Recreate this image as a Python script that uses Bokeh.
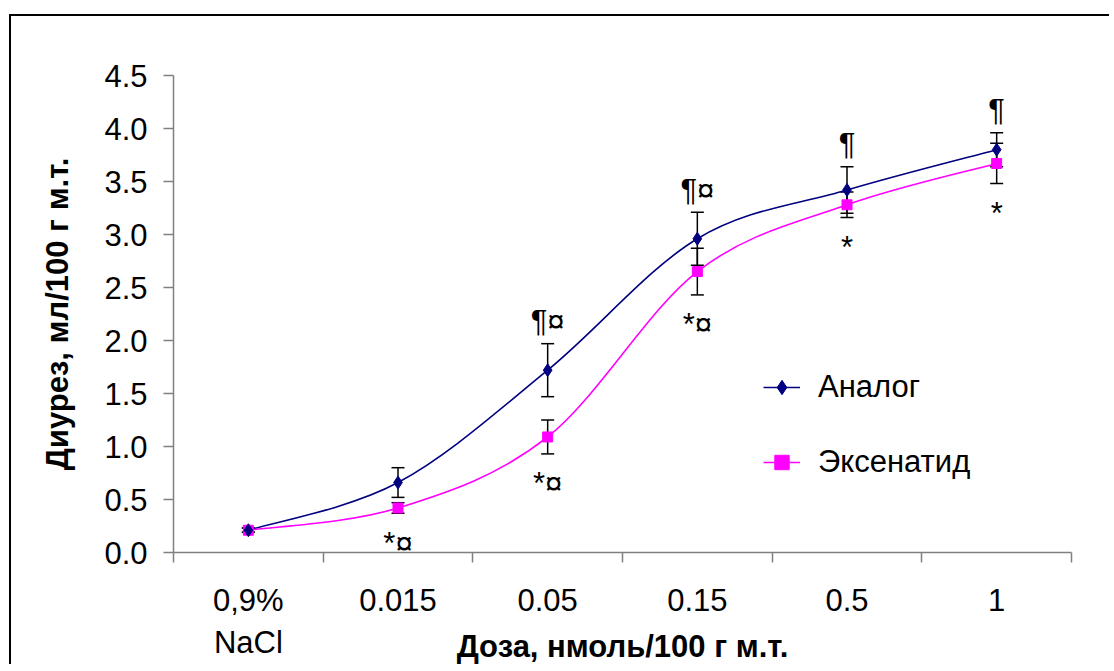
import numpy as np
from bokeh.plotting import figure
from bokeh.models import (ColumnDataSource, FixedTicker, NumeralTickFormatter, Whisker,
                          TeeHead, Legend, LegendItem, Range1d)
from bokeh.core.properties import value
from bokeh.embed import file_html
from bokeh.resources import INLINE

# ---- data ----
categories = ["0,9%\nNaCl", "0.015", "0.05", "0.15", "0.5", "1"]
series_names = ["Аналог", "Эксенатид"]
analog = [0.21, 0.66, 1.72, 2.96, 3.42, 3.80]
analog_err = [0.02, 0.14, 0.25, 0.25, 0.22, 0.16]
exenatide = [0.21, 0.42, 1.09, 2.65, 3.28, 3.67]
exenatide_err = [0.02, 0.05, 0.16, 0.22, 0.12, 0.19]
analog_marks = ["", "", "¶¤", "¶¤", "¶", "¶"]
exenatide_marks = ["", "*¤", "*¤", "*¤", "*", "*"]
y_ticks = [0.0, 0.5, 1.0, 1.5, 2.0, 2.5, 3.0, 3.5, 4.0, 4.5]
x_title = "Доза, нмоль/100 г м.т."
y_title = "Диурез, мл/100 г м.т."

FONT = "Liberation Sans"
FS = "31px"
NAVY = "#000080"
MAGENTA = "#FF00FF"
AXIS = "#808080"

n = len(categories)
xs = np.arange(n) + 0.5


def smooth_segments(x, y):
    """Excel-like smoothed line: Catmull-Rom segments as cubic Bezier."""
    P = np.column_stack([x, y]).astype(float)
    m = len(P)
    ext = np.vstack([P[0], P, P[-1]])
    c1 = P[:-1] + (ext[2:m + 1] - ext[0:m - 1]) / 6.0
    c2 = P[1:] - (ext[3:m + 2] - ext[1:m]) / 6.0
    return dict(x0=P[:-1, 0], y0=P[:-1, 1], x1=P[1:, 0], y1=P[1:, 1],
                cx0=c1[:, 0], cy0=c1[:, 1], cx1=c2[:, 0], cy1=c2[:, 1])


p = figure(width=1100, height=650, output_backend="svg", toolbar_location=None,
           x_range=Range1d(0, n), y_range=Range1d(0, 4.5),
           min_border_left=162, min_border_top=59, min_border_right=40, min_border_bottom=114)
p.margin = (14, 0, 0, 9)
p.styles = {"border-left": "2px solid black", "border-top": "2px solid black"}
p.outline_line_color = None
p.xgrid.visible = False
p.ygrid.visible = False
p.background_fill_color = "white"
p.border_fill_color = "white"

# x axis
p.xaxis.ticker = FixedTicker(ticks=list(xs), minor_ticks=list(range(n + 1)))
p.xaxis.major_label_overrides = {float(v): c for v, c in zip(xs, categories)}
p.xaxis.major_tick_out = 0
p.xaxis.major_tick_in = 0
p.xaxis.minor_tick_out = 10
p.xaxis.minor_tick_in = 0
p.xaxis.minor_tick_line_color = AXIS
p.xaxis.minor_tick_line_width = 1.5
p.xaxis.major_label_standoff = 20
p.xaxis.axis_label = x_title
p.xaxis.axis_label_standoff = -34

# y axis
p.yaxis.ticker = FixedTicker(ticks=y_ticks, minor_ticks=[])
p.yaxis.formatter = NumeralTickFormatter(format="0.0")
p.yaxis.major_tick_out = 10
p.yaxis.major_tick_in = 0
p.yaxis.major_label_standoff = 16
p.yaxis.axis_label = y_title
p.yaxis.axis_label_standoff = 26

for ax in (p.xaxis, p.yaxis):
    ax.axis_line_color = AXIS
    ax.axis_line_width = 1.5
    ax.major_tick_line_color = AXIS
    ax.major_tick_line_width = 1.5
    ax.major_label_text_font = FONT
    ax.major_label_text_font_size = FS
    ax.major_label_text_color = "black"
    ax.axis_label_text_font = FONT
    ax.axis_label_text_font_size = FS
    ax.axis_label_text_font_style = "bold"
    ax.axis_label_text_color = "black"

# error bars
for vals, errs in ((analog, analog_err), (exenatide, exenatide_err)):
    v = np.array(vals)
    e = np.array(errs)
    src = ColumnDataSource(dict(base=xs, upper=v + e, lower=v - e))
    w = Whisker(base="base", upper="upper", lower="lower", source=src, dimension="height",
                line_color="black", line_width=1.5,
                upper_head=TeeHead(size=13, line_color="black", line_width=1.5),
                lower_head=TeeHead(size=13, line_color="black", line_width=1.5),
                level="underlay")
    p.add_layout(w)

# smoothed lines + markers
bez_a = p.bezier(source=ColumnDataSource(smooth_segments(xs, analog)),
                 x0="x0", y0="y0", x1="x1", y1="y1", cx0="cx0", cy0="cy0", cx1="cx1", cy1="cy1",
                 line_color=NAVY, line_width=1.6)
bez_e = p.bezier(source=ColumnDataSource(smooth_segments(xs, exenatide)),
                 x0="x0", y0="y0", x1="x1", y1="y1", cx0="cx0", cy0="cy0", cx1="cx1", cy1="cy1",
                 line_color=MAGENTA, line_width=1.6)
sc_e = p.scatter(xs, exenatide, marker="square", size=10, fill_color=MAGENTA, line_color=MAGENTA)
sc_a = p.scatter(xs, analog, marker="diamond", size=13, fill_color=NAVY, line_color=NAVY)

# significance marks
p.text(x=xs, y=np.array(analog) + np.array(analog_err), text=analog_marks,
       text_align="center", text_baseline="middle", y_offset=-22,
       text_font=value(FONT), text_font_size=FS, text_color="black")
p.text(x=xs, y=np.array(exenatide) - np.array(exenatide_err), text=exenatide_marks,
       text_align="center", text_baseline="middle", y_offset=30,
       text_font=value(FONT), text_font_size=FS, text_color="black")

legend = Legend(items=[LegendItem(label=series_names[0], renderers=[bez_a, sc_a]),
                       LegendItem(label=series_names[1], renderers=[bez_e, sc_e])],
                location=(590, 72), orientation="vertical",
                label_text_font=FONT, label_text_font_size=FS, label_text_color="black",
                glyph_width=37, glyph_height=36, label_height=36, spacing=39,
                label_standoff=18, padding=0, margin=0,
                border_line_color=None, background_fill_alpha=0)
p.add_layout(legend)

open("out.html", "w").write(file_html(p, INLINE))
